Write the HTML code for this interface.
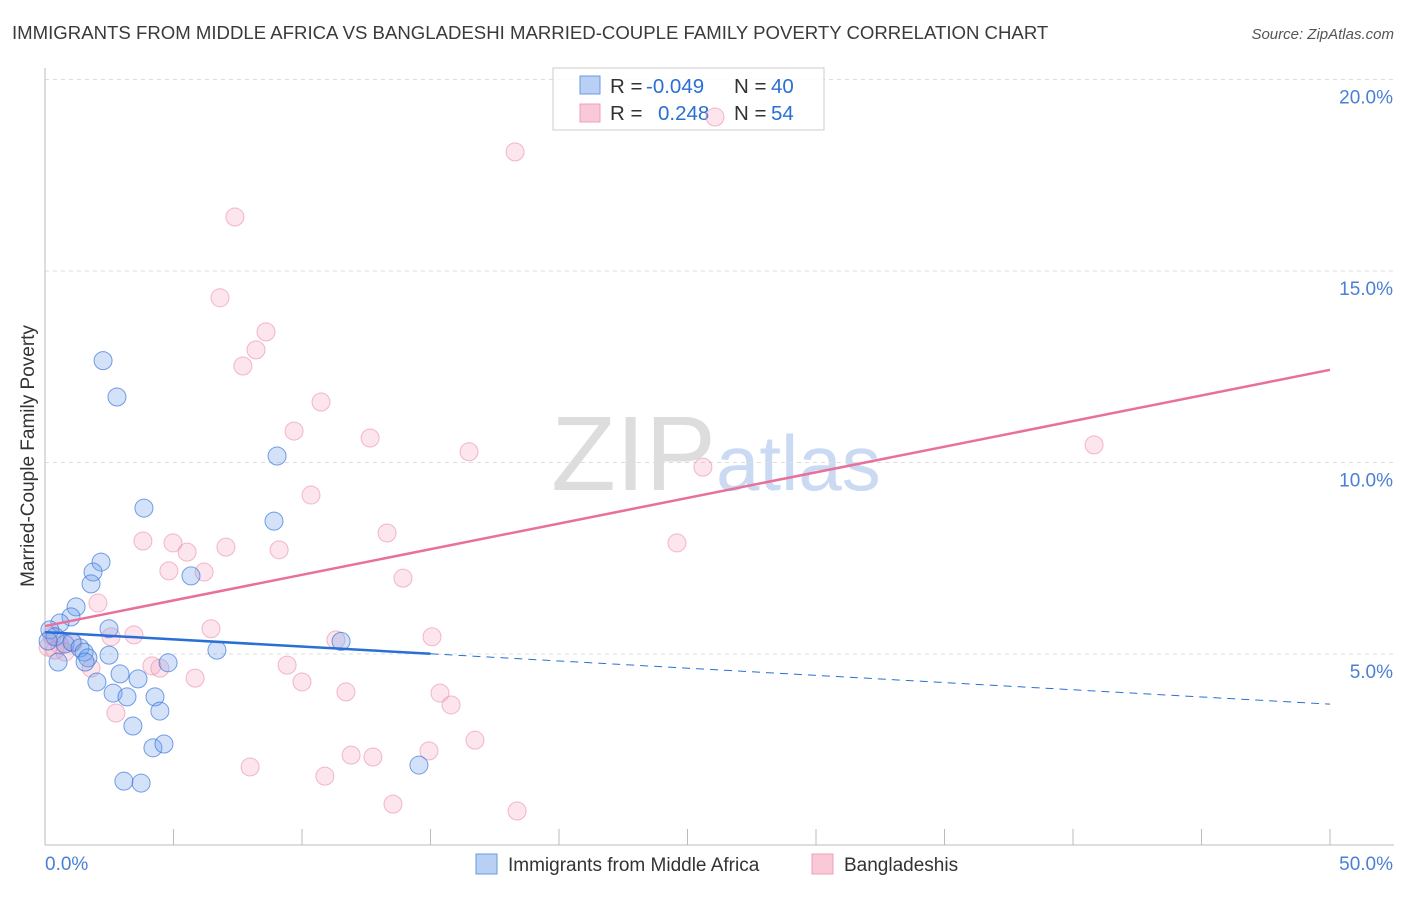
<!DOCTYPE html>
<html><head><meta charset="utf-8"><style>
body{margin:0;background:#fff;font-family:"Liberation Sans",sans-serif;}
svg text{font-family:"Liberation Sans",sans-serif;}
</style></head><body>
<svg id="c" width="1406" height="892">
<text x="12" y="39" font-size="18.6" fill="#3a3a3a">IMMIGRANTS FROM MIDDLE AFRICA VS BANGLADESHI MARRIED-COUPLE FAMILY POVERTY CORRELATION CHART</text>
<text x="1394" y="39" font-size="15" fill="#555" text-anchor="end" font-style="italic">Source: ZipAtlas.com</text>
<text x="716" y="490" font-size="106" fill="#ddd" text-anchor="end" font-family="Liberation Serif">ZIP</text>
<text x="716" y="490" font-size="78" fill="#c9daf2">atlas</text>
<text x="34" y="456" font-size="19" fill="#333" text-anchor="middle" transform="rotate(-90 34 456)">Married-Couple Family Poverty</text>
<g id="grid"></g>
<g>
<rect x="553" y="68" width="271" height="62" fill="#fff" fill-opacity="0.85" stroke="#ccc"/>
<rect x="580" y="76" width="20" height="18" fill="#b8d0f5" stroke="#6a9ae0"/>
<rect x="580" y="104" width="20" height="18" fill="#f9c9d8" stroke="#eea0b8"/>
<text y="93" font-size="20.5" fill="#333"><tspan x="610">R =</tspan><tspan x="646" fill="#2a6fd6">-0.049</tspan><tspan x="734">N =</tspan><tspan x="771" fill="#2a6fd6">40</tspan></text>
<text y="120" font-size="20.5" fill="#333"><tspan x="610">R =</tspan><tspan x="658" fill="#2a6fd6">0.248</tspan><tspan x="734">N =</tspan><tspan x="771" fill="#2a6fd6">54</tspan></text>
</g>
<g id="pts"></g><g id="lines"></g>
<g>
<rect x="476" y="854" width="21" height="20" fill="#b8d0f5" stroke="#6a9ae0"/>
<text x="508" y="871" font-size="19" fill="#333">Immigrants from Middle Africa</text>
<rect x="812" y="854" width="21" height="20" fill="#f9c9d8" stroke="#eea0b8"/>
<text x="844" y="871" font-size="19" fill="#333">Bangladeshis</text>
</g>
</svg>
<script>
const blueX=[2.26,2.80,3.85,9.03,8.91,2.18,1.87,1.79,1.21,1.01,0.58,0.19,0.39,0.78,1.05,1.36,1.52,1.67,1.56,0.51,2.49,2.49,2.92,3.62,4.79,6.69,11.52,2.02,2.65,3.19,4.28,4.47,3.42,4.20,4.63,3.07,3.74,14.55,5.68,0.12];
const blueY=[12.66,11.71,8.81,10.17,8.47,7.40,7.14,6.83,6.23,5.97,5.81,5.63,5.45,5.26,5.31,5.16,5.05,4.90,4.79,4.79,5.66,4.97,4.48,4.35,4.77,5.10,5.33,4.27,3.98,3.88,3.88,3.51,3.12,2.55,2.65,1.68,1.63,2.10,7.04,5.34];
const pinkX=[26.07,18.29,7.39,6.81,8.60,8.21,7.70,10.74,9.69,12.65,16.50,40.82,25.60,10.35,13.31,3.81,4.98,5.53,7.04,9.11,24.59,4.82,6.19,13.93,2.06,2.57,3.46,6.46,11.32,15.06,0.58,1.09,1.79,4.16,4.47,5.84,9.42,10.00,11.71,15.37,15.80,2.76,16.73,14.94,11.91,12.76,7.98,10.89,13.54,18.37,0.39,0.78,0.27,0.12];
const pinkY=[19.02,18.11,16.41,14.30,13.41,12.94,12.52,11.58,10.82,10.64,10.28,10.46,9.88,9.15,8.16,7.95,7.90,7.66,7.79,7.72,7.90,7.17,7.14,6.98,6.33,5.45,5.50,5.66,5.37,5.45,5.23,5.29,4.63,4.69,4.63,4.37,4.71,4.27,4.01,3.98,3.67,3.46,2.75,2.47,2.36,2.31,2.05,1.81,1.08,0.90,5.10,5.05,5.47,5.18];
const yTicks=[5,10,15,20];
const yTickLabels=["5.0%","10.0%","15.0%","20.0%"];
const blueTrend=[5.57,3.69];
const pinkTrend=[5.73,12.42];
const NS="http://www.w3.org/2000/svg";
const sx=v=>45+v/50*1285, sy=v=>845.5-v*38.3;
function mk(tag,at,parent){const e=document.createElementNS(NS,tag);for(const k in at)e.setAttribute(k,at[k]);parent.appendChild(e);return e;}
const grid=document.getElementById('grid');
yTicks.forEach((t,i)=>{
  const l=mk('line',{x1:45,x2:1394,y1:sy(t),y2:sy(t),stroke:'#ddd','stroke-dasharray':'4,4'},grid);
  
  
  const tx=mk('text',{x:1393,y:sy(t)+24,'font-size':19,fill:'#4a7fd6','text-anchor':'end'},grid);
  tx.textContent=yTickLabels[i];
  
  
});
const ax=mk('line',{x1:45,x2:45,y1:68,y2:845,stroke:'#bbb'},grid);


const bx=mk('line',{x1:45,x2:1394,y1:845,y2:845,stroke:'#bbb'},grid);


for(let v=0;v<=50;v+=5){const t=mk('line',{x1:sx(v),x2:sx(v),y1:829,y2:845,stroke:'#bbb'},grid);
  
  }
[["0.0%",45,'start'],["50.0%",1393,'end']].forEach(a=>{const t=mk('text',{x:a[1],y:870,'font-size':19,fill:'#4a7fd6','text-anchor':a[2]},grid);t.textContent=a[0];
  
  });
const pts=document.getElementById('pts');
pinkX.forEach((x,i)=>{const c=mk('circle',{cx:sx(x),cy:sy(pinkY[i]),r:9,fill:'rgba(244,160,190,0.28)',stroke:'rgba(235,140,170,0.6)','stroke-width':1},pts);
  
  });
blueX.forEach((x,i)=>{const c=mk('circle',{cx:sx(x),cy:sy(blueY[i]),r:9,fill:'rgba(110,160,235,0.3)',stroke:'rgba(60,120,220,0.7)','stroke-width':1},pts);
  
  });
const lines=document.getElementById('lines');
const by=x=>blueTrend[0]+(blueTrend[1]-blueTrend[0])*x/50;
let l1=mk('line',{x1:sx(0),y1:sy(by(0)),x2:sx(15),y2:sy(by(15)),stroke:'#2a6fd6','stroke-width':2.5},lines);


let l2=mk('line',{x1:sx(15),y1:sy(by(15)),x2:sx(50),y2:sy(by(50)),stroke:'#2a6fd6','stroke-width':1,'stroke-dasharray':'8,6'},lines);


let l3=mk('line',{x1:sx(0),y1:sy(pinkTrend[0]),x2:sx(50),y2:sy(pinkTrend[1]),stroke:'#e8709a','stroke-width':2.5},lines);


</script>
</body></html>
